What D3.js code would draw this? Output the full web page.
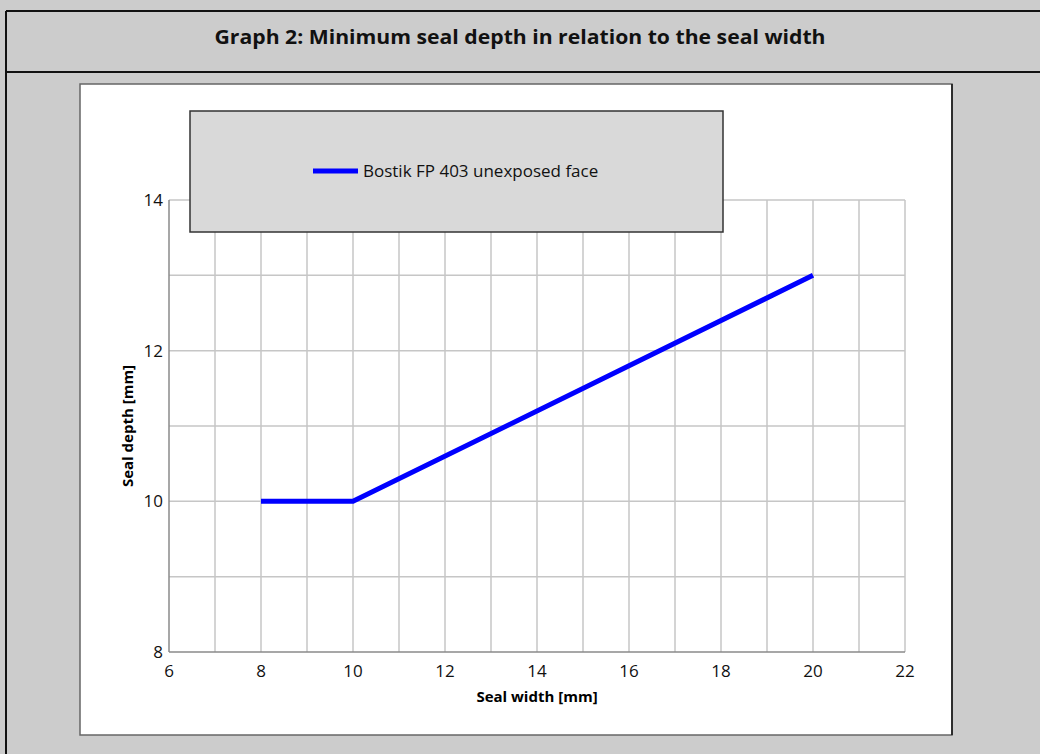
<!DOCTYPE html>
<html>
<head>
<meta charset="utf-8">
<script src="https://cdn.jsdelivr.net/npm/d3@7"></script>
<style>
  body { margin: 0; background: #cccccc; }
  svg { display: block; }
</style>
</head>
<body>
<div id="chart"></div>
<script>
// data
var sealWidth = [8, 10, 20];
var sealDepth = [10, 10, 13];
var xTicks = [6, 8, 10, 12, 14, 16, 18, 20, 22];
var yTicks = [8, 10, 12, 14];
var seriesName = "Bostik FP 403 unexposed face";
var title = "Graph 2: Minimum seal depth in relation to the seal width";

var width = 1040, height = 754;
var plot = { left: 169, right: 905, top: 200, bottom: 652 };

var svg = d3.select("#chart").append("svg")
    .attr("width", width)
    .attr("height", height)
    .style("font-family", "'Open Sans', sans-serif");

// outer frame + title bar
svg.append("rect").attr("x", 0).attr("y", 0).attr("width", width).attr("height", height).attr("fill", "#cccccc");
svg.append("line").attr("x1", 6).attr("x2", width).attr("y1", 11).attr("y2", 11).attr("stroke", "#111").attr("stroke-width", 2);
svg.append("line").attr("x1", 6).attr("x2", 6).attr("y1", 11).attr("y2", height).attr("stroke", "#111").attr("stroke-width", 2);
svg.append("line").attr("x1", 6).attr("x2", width).attr("y1", 72).attr("y2", 72).attr("stroke", "#111").attr("stroke-width", 2);

svg.append("text")
    .attr("x", 520).attr("y", 44)
    .attr("text-anchor", "middle")
    .attr("font-size", 20)
    .attr("font-weight", "bold")
    .attr("fill", "#111")
    .attr("textLength", 611)
    .attr("lengthAdjust", "spacingAndGlyphs")
    .text(title);

// white chart panel
svg.append("rect")
    .attr("x", 80).attr("y", 84).attr("width", 872).attr("height", 651)
    .attr("fill", "#fff").attr("stroke", "#666").attr("stroke-width", 1.5);
svg.append("line").attr("x1", 952).attr("x2", 952).attr("y1", 84).attr("y2", 735).attr("stroke", "#111").attr("stroke-width", 1.5);

var x = d3.scaleLinear().domain([6, 22]).range([plot.left, plot.right]);
var y = d3.scaleLinear().domain([8, 14]).range([plot.bottom, plot.top]);

// gridlines every 1 mm
var g = svg.append("g");
g.selectAll(".vgrid")
    .data(d3.range(7, 23))
    .enter().append("line")
    .attr("x1", d => x(d)).attr("x2", d => x(d))
    .attr("y1", y(8)).attr("y2", y(14))
    .attr("stroke", "#c6c6c6").attr("stroke-width", 1.5);
g.selectAll(".hgrid")
    .data(d3.range(9, 15))
    .enter().append("line")
    .attr("x1", x(6)).attr("x2", x(22))
    .attr("y1", d => y(d)).attr("y2", d => y(d))
    .attr("stroke", "#c6c6c6").attr("stroke-width", 1.5);

// axis lines
g.append("line").attr("x1", x(6)).attr("x2", x(6)).attr("y1", y(8)).attr("y2", y(14))
    .attr("stroke", "#8a8a8a").attr("stroke-width", 1.5);
g.append("line").attr("x1", x(6)).attr("x2", x(22)).attr("y1", y(8)).attr("y2", y(8))
    .attr("stroke", "#8a8a8a").attr("stroke-width", 1.5);

// tick labels
g.selectAll(".xt")
    .data(xTicks)
    .enter().append("text")
    .attr("x", d => x(d)).attr("y", y(8) + 25)
    .attr("text-anchor", "middle")
    .attr("font-size", 17)
    .attr("fill", "#111")
    .text(d => d);
g.selectAll(".yt")
    .data(yTicks)
    .enter().append("text")
    .attr("x", x(6) - 6).attr("y", d => y(d) + 6)
    .attr("text-anchor", "end")
    .attr("font-size", 17)
    .attr("fill", "#111")
    .text(d => d);

// axis titles
svg.append("text")
    .attr("x", (plot.left + plot.right) / 2).attr("y", 702)
    .attr("text-anchor", "middle")
    .attr("font-size", 15).attr("font-weight", "bold")
    .text("Seal width [mm]");
svg.append("text")
    .attr("transform", "translate(133," + ((plot.top + plot.bottom) / 2) + ") rotate(-90)")
    .attr("text-anchor", "middle")
    .attr("font-size", 15).attr("font-weight", "bold")
    .text("Seal depth [mm]");

// series line
var pts = sealWidth.map((d, i) => [d, sealDepth[i]]);
var line = d3.line().x(d => x(d[0])).y(d => y(d[1]));
svg.append("path")
    .datum(pts)
    .attr("d", line)
    .attr("fill", "none")
    .attr("stroke", "#0000ff")
    .attr("stroke-width", 5);

// legend box, drawn over the plot
var lg = svg.append("g");
lg.append("rect")
    .attr("x", 190).attr("y", 111).attr("width", 533).attr("height", 121)
    .attr("fill", "#d9d9d9").attr("stroke", "#333").attr("stroke-width", 1.5);
lg.append("line")
    .attr("x1", 313).attr("x2", 358).attr("y1", 171).attr("y2", 171)
    .attr("stroke", "#0000ff").attr("stroke-width", 5);
lg.append("text")
    .attr("x", 363).attr("y", 177)
    .attr("font-size", 17)
    .attr("fill", "#111")
    .text(seriesName);
</script>
</body>
</html>
